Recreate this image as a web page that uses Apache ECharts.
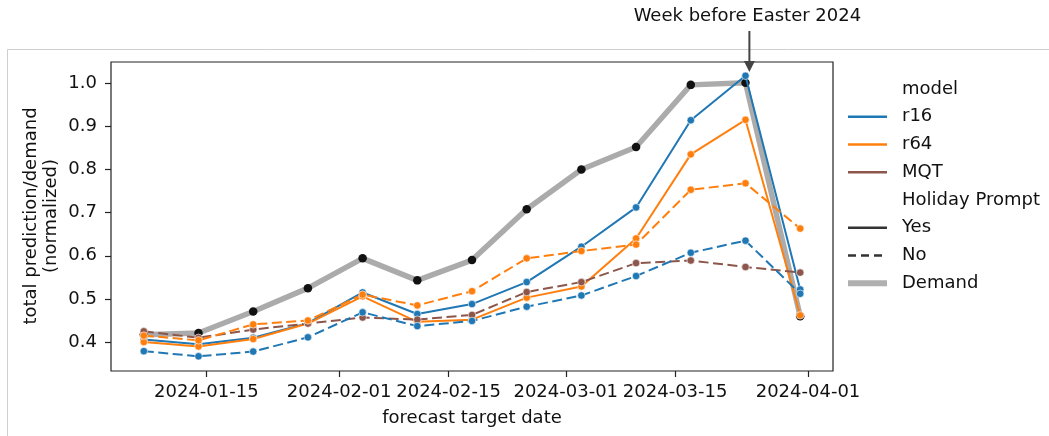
<!DOCTYPE html>
<html>
<head>
<meta charset="utf-8">
<script src="https://cdn.jsdelivr.net/npm/echarts@6/dist/echarts.min.js"></script>
<style>
html,body{margin:0;padding:0;background:#fff;}
#chart{width:1049px;height:436px;}
</style>
</head>
<body>
<div id="chart"></div>
<script>
const dates = ['2024-01-07','2024-01-14','2024-01-21','2024-01-28','2024-02-04','2024-02-11','2024-02-18','2024-02-25','2024-03-03','2024-03-10','2024-03-17','2024-03-24','2024-03-31'];
const demand = [0.417,0.421,0.471,0.525,0.594,0.543,0.590,0.708,0.800,0.852,0.996,1.001,0.460];
const r16Yes = [0.406,0.395,0.410,0.444,0.515,0.465,0.488,0.539,0.621,0.712,0.914,1.017,0.522];
const r64Yes = [0.400,0.390,0.407,0.443,0.506,0.447,0.452,0.503,0.529,0.640,0.835,0.915,0.462];
const r16No  = [0.379,0.367,0.378,0.411,0.469,0.437,0.449,0.482,0.508,0.553,0.607,0.635,0.512];
const r64No  = [0.415,0.404,0.441,0.450,0.510,0.485,0.518,0.594,0.611,0.626,0.753,0.768,0.663];
const mqtNo  = [0.425,0.410,0.429,0.443,0.457,0.452,0.463,0.516,0.539,0.583,0.589,0.574,0.561];
const xTickLabels = ['2024-01-15','2024-02-01','2024-02-15','2024-03-01','2024-03-15','2024-04-01'];
const yTickValues = [0.4,0.5,0.6,0.7,0.8,0.9,1.0];
const annotationDate = '2024-03-24';
const annotationText = 'Week before Easter 2024';

const FONT = 'DejaVu Sans';
const ts = d => Date.parse(d + 'T00:00:00Z');
const DAY = 86400000;
const xs = dates.map(ts);
const pad = (xs[xs.length-1] - xs[0]) * 0.05;
const pair = arr => arr.map((v,i) => [xs[i], v]);

const C_R16 = '#1f77b4', C_R64 = '#ff7f0e', C_MQT = '#8c564b';
const DASH = [10,4.5];

function modelSeries(name, arr, color, dashed) {
  return {
    name, type: 'line', data: pair(arr), z: 3,
    symbol: 'circle', symbolSize: 7.5, showSymbol: true,
    lineStyle: {color, width: 2, type: dashed ? DASH : 'solid'},
    itemStyle: {color, borderColor: '#fff', borderWidth: 0.6},
    emphasis: {disabled: true}
  };
}

const chart = echarts.init(document.getElementById('chart'), null, {renderer: 'canvas'});
const axisColor = '#222';
const option = {
  animation: false,
  backgroundColor: '#fff',
  grid: {left: 111, right: 216, top: 62, bottom: 65, show: true, borderColor: axisColor, borderWidth: 1.2, backgroundColor: 'transparent'},
  xAxis: {
    type: 'value',
    min: xs[0] - pad, max: xs[xs.length-1] + pad,
    axisLine: {show: false},
    splitLine: {show: false},
    axisTick: {show: true, length: 6, lineStyle: {color: axisColor, width: 1.2}, customValues: xTickLabels.map(ts)},
    axisLabel: {
      customValues: xTickLabels.map(ts), margin: 12,
      fontFamily: FONT, fontSize: 18, color: '#111',
      formatter: v => new Date(v).toISOString().slice(0,10)
    }
  },
  yAxis: {
    type: 'value', min: 0.333, max: 1.049,
    axisLine: {show: false},
    splitLine: {show: false},
    axisTick: {show: true, length: 6, lineStyle: {color: axisColor, width: 1.2}, customValues: yTickValues},
    axisLabel: {customValues: yTickValues, margin: 14, fontFamily: FONT, fontSize: 18, color: '#111', formatter: v => v.toFixed(1)}
  },
  series: [
    {
      name: 'Demand', type: 'line', data: pair(demand), z: 2,
      symbol: 'circle', symbolSize: 8.5,
      lineStyle: {color: 'rgba(120,120,120,0.62)', width: 5.5},
      itemStyle: {color: '#111'},
      emphasis: {disabled: true}
    },
    modelSeries('r16 Yes', r16Yes, C_R16, false),
    modelSeries('r64 Yes', r64Yes, C_R64, false),
    modelSeries('MQT No', mqtNo, C_MQT, true),
    modelSeries('r64 No', r64No, C_R64, true),
    modelSeries('r16 No', r16No, C_R16, true)
  ]
};
chart.setOption(option);

const ax = chart.convertToPixel({gridIndex: 0}, [ts(annotationDate) + DAY/2, 1.0])[0];
const legendRows = [
  {label: 'model'},
  {label: 'r16', color: C_R16},
  {label: 'r64', color: C_R64},
  {label: 'MQT', color: C_MQT},
  {label: 'Holiday Prompt'},
  {label: 'Yes', color: '#333'},
  {label: 'No', color: '#333', dash: [8,5]},
  {label: 'Demand', color: '#b0b0b0', width: 6}
];
const g = [];
g.push({type: 'polyline', shape: {points: [[7.5,436],[7.5,49.5],[1049,49.5]]}, style: {stroke: '#cfcfcf', lineWidth: 1, fill: null}, silent: true});
g.push({type: 'line', shape: {x1: ax, y1: 31, x2: ax, y2: 62}, style: {stroke: '#444', lineWidth: 2}, silent: true});
g.push({type: 'polygon', shape: {points: [[ax-5.5,61],[ax+5.5,61],[ax,72]]}, style: {fill: '#444'}, silent: true});
g.push({type: 'text', x: ax - 2, y: 16, style: {text: annotationText, font: '18px "DejaVu Sans"', fill: '#111', textAlign: 'center', textVerticalAlign: 'middle'}, silent: true});
g.push({type: 'text', x: 472, y: 418, style: {text: 'forecast target date', font: '18px "DejaVu Sans"', fill: '#111', textAlign: 'center', textVerticalAlign: 'middle'}, silent: true});
g.push({type: 'text', x: 41, y: 216, rotation: Math.PI/2, style: {text: 'total prediction/demand\n(normalized)', font: '18px "DejaVu Sans"', fill: '#111', textAlign: 'center', textVerticalAlign: 'middle', lineHeight: 20}, silent: true});
legendRows.forEach((r, i) => {
  const y = 89 + i * 27.75;
  if (r.color) {
    g.push({type: 'line', shape: {x1: 848, y1: y, x2: 887, y2: y}, style: {stroke: r.color, lineWidth: r.width || 2.5, lineDash: r.dash || null}, silent: true});
  }
  g.push({type: 'text', x: 902, y: y, style: {text: r.label, font: '18px "DejaVu Sans"', fill: '#111', textAlign: 'left', textVerticalAlign: 'middle'}, silent: true});
});
chart.setOption({graphic: g});
</script>
</body>
</html>
